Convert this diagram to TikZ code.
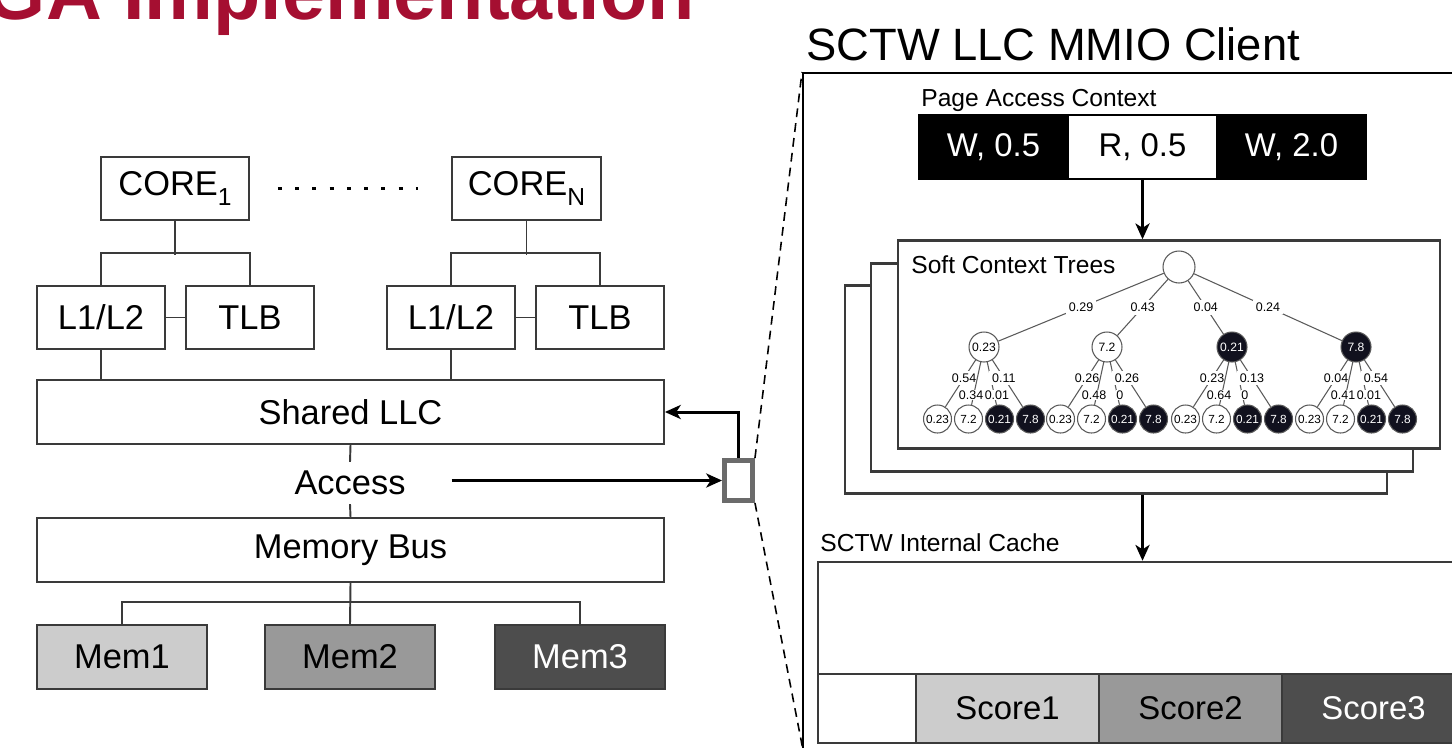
\documentclass[tikz,border=0pt]{standalone}
\usepackage{fontspec}
\setmainfont{Liberation Sans}
\usetikzlibrary{arrows.meta}
\definecolor{titlered}{HTML}{A50F31}
\definecolor{boxline}{HTML}{3A3A3A}
\definecolor{memA}{HTML}{CCCCCC}
\definecolor{memB}{HTML}{999999}
\definecolor{memC}{HTML}{4D4D4D}
\definecolor{portgray}{HTML}{6B6B6B}
\definecolor{treeink}{HTML}{11111E}
\definecolor{treeline}{HTML}{5A5A5A}
\newcommand\fsz[1]{\fontsize{#1pt}{#1pt}\selectfont}
\newcommand\idx[1]{\raisebox{-0.3em}{\fsz{14}#1}}
% one subtree: parent name, parent x, four edge weights
\newcommand\leafgroup[6]{%
  \node[wleaf] (#1l1) at (#2-46.5,419) {0.23};
  \node[wleaf] (#1l2) at (#2-15.5,419) {7.2};
  \node[bleaf] (#1l3) at (#2+15.5,419) {0.21};
  \node[bleaf] (#1l4) at (#2+46.5,419) {7.8};
  \draw[tedge] (#1) -- node[elab,pos=0.38] (#1e1) {#3} (#1l1);
  \draw[tedge] (#1) -- node[ilab,pos=0.78,xshift=-0.05cm] (#1e2) {#4} (#1l2);
  \draw[tedge] (#1) -- node[ilab,pos=0.78,xshift=0.05cm] (#1e3) {#5} (#1l3);
  \draw[tedge] (#1) -- node[elab,pos=0.38] (#1e4) {#6} (#1l4);
}
\begin{document}
\begin{tikzpicture}[x=0.02cm, y=-0.02cm,
  box/.style={draw=boxline, line width=1.1pt, inner sep=0pt, minimum height=1.26cm, font=\fsz{19.6}},
  conn/.style={draw=boxline, line width=1.1pt},
  arr/.style={draw=black, line width=1.7pt, -{Stealth[length=9pt,width=8pt,inset=2.5pt]}},
  dotline/.style={draw=black, line width=2.2pt, dash pattern=on 0.08cm off 0.265cm},
  dashline/.style={draw=black, line width=0.9pt, dash pattern=on 5pt off 3.5pt},
  cell/.style={draw=black, line width=1pt, inner sep=0pt, minimum width=2.98cm, minimum height=1.28cm, font=\fsz{18.7}},
  treebox/.style={draw=boxline, line width=1.4pt, fill=white, minimum width=10.84cm, minimum height=4.16cm},
  wnode/.style={circle, draw=treeline, line width=0.6pt, fill=white, inner sep=0pt, minimum size=0.6cm, font=\fsz{6.9}},
  bnode/.style={wnode, fill=treeink, text=white},
  wleaf/.style={wnode, minimum size=0.56cm, font=\fsz{6.7}},
  bleaf/.style={wleaf, fill=treeink, text=white},
  tedge/.style={draw=treeline, line width=0.6pt},
  elab/.style={fill=white, inner sep=1.6pt, font=\fsz{7.1}},
  ilab/.style={fill=white, inner sep=0.3pt, font=\fsz{7.1}},
  slot/.style={draw=boxline, line width=1.1pt, inner sep=0pt, minimum height=1.38cm, font=\fsz{18.7}},
  caption/.style={anchor=base west, inner sep=0pt, font=\fsz{14}}
]
\useasboundingbox (0,0) rectangle (1452,747);
\clip (0,0) rectangle (1452,747);

% ---------- heading ----------
\node[anchor=base east, inner sep=0pt, font=\fsz{44}\bfseries, text=titlered] (heading) at (695,19) {GA Implementation};

% ---------- multicore system ----------
\node[box, minimum width=2.96cm] (core1) at (175,188.5) {CORE\idx{1}};
\node[box, minimum width=2.98cm] (coren) at (526.5,188.5) {CORE\idx{N}};
\draw[dotline, shorten <=0.56cm, shorten >=0.66cm] (core1.east) -- (coren.west);

\node[box, minimum width=2.56cm] (l1a) at (101,317.5) {L1/L2};
\node[box, minimum width=2.56cm] (tlba) at (250,317.5) {TLB};
\node[box, minimum width=2.56cm] (l1b) at (451,317.5) {L1/L2};
\node[box, minimum width=2.56cm] (tlbb) at (600,317.5) {TLB};

\draw[conn] (core1.south) -- ++(0,34);
\draw[conn] (l1a.north) -- ++(0,-32) -| (tlba.north);
\draw[conn] (coren.south) -- ++(0,34);
\draw[conn] (l1b.north) -- ++(0,-32) -| (tlbb.north);
\draw[conn] (l1a) -- (tlba);
\draw[conn] (l1b) -- (tlbb);

\node[box, minimum width=12.54cm, minimum height=1.28cm] (llc) at (350.5,412) {Shared LLC};
\draw[conn] (l1a.south) -- (l1a.south |- llc.north);
\draw[conn] (l1b.south) -- (l1b.south |- llc.north);

\node[inner sep=5pt, font=\fsz{19.6}] (access) at (350,483) {Access};
\node[box, minimum width=12.54cm, minimum height=1.28cm] (bus) at (350.5,550) {Memory Bus};
\draw[conn] (llc.south) -- (access.north);
\draw[conn] (access.south) -- (bus.north);

\node[box, minimum width=3.4cm, minimum height=1.28cm, fill=memA] (mem1) at (122,657) {Mem1};
\node[box, minimum width=3.4cm, minimum height=1.28cm, fill=memB] (mem2) at (350,657) {Mem2};
\node[box, minimum width=3.4cm, minimum height=1.28cm, fill=memC, text=white] (mem3) at (580,657) {Mem3};
\draw[conn] (bus.south) -- (mem2.north);
\draw[conn] (mem1.north) -- ++(0,-22) -| (mem3.north);

% ---------- MMIO port ----------
\node[draw=portgray, line width=2.8pt, fill=white, inner sep=0pt, minimum width=0.56cm, minimum height=0.8cm] (port) at (738.5,480.5) {};
\draw[arr] ([xshift=0.74cm]access.east |- port.west) -- (port.west);
\draw[arr] (port.north) |- (llc.east);

% ---------- client panel ----------
\node[draw=black, line width=1.2pt, inner sep=0pt, minimum width=13.94cm, minimum height=14.54cm] (panel) at (1151.5,436.5) {};
\coordinate (panelfoot) at (803,750);
\draw[dashline] (port.north east) -- (panel.north west);
\draw[dashline] (port.south east) -- (panelfoot);
\node[anchor=base west, inner sep=0pt, font=\fsz{25.8}] (ptitle) at (806,60) {SCTW LLC MMIO Client};

% page access context
\node[caption] (ctxcap) at (921,106) {Page Access Context};
\node[cell, fill=black, text=white] (ctx1) at (993.5,147) {W, 0.5};
\node[cell, fill=white] (ctx2) at (1142.5,147) {R, 0.5};
\node[cell, fill=black, text=white] (ctx3) at (1291.5,147) {W, 2.0};

% stacked soft context trees
\node[treebox] (tree3) at (1116,389.5) {};
\node[treebox] (tree2) at (1142,367.5) {};
\node[treebox] (tree1) at (1169,344.5) {};
\draw[arr] (ctx2.south) -- (ctx2.south |- tree1.north);
\node[caption] (treecap) at (911,273) {Soft Context Trees};

\node[wnode, minimum size=0.64cm] (root) at (1179,267) {};
\node[wnode] (a) at (984,347) {0.23};
\node[wnode] (b) at (1107,347) {7.2};
\node[bnode] (c) at (1232,347) {0.21};
\node[bnode] (d) at (1356,347) {7.8};
\draw[tedge] (root) -- node[elab] (ra) {0.29} (a);
\draw[tedge] (root) -- node[elab] (rb) {0.43} (b);
\draw[tedge] (root) -- node[elab] (rc) {0.04} (c);
\draw[tedge] (root) -- node[elab] (rd) {0.24} (d);
\leafgroup{a}{984}{0.54}{0.34}{0.01}{0.11}
\leafgroup{b}{1107}{0.26}{0.48}{0}{0.26}
\leafgroup{c}{1232}{0.23}{0.64}{0}{0.13}
\leafgroup{d}{1356}{0.04}{0.41}{0.01}{0.54}

% internal cache
\node[caption] (cachecap) at (820,551) {SCTW Internal Cache};
\node[draw=boxline, line width=1.4pt, inner sep=0pt, minimum width=13.64cm, minimum height=3.62cm] (cache) at (1159,652.5) {};
\draw[arr] (ctx2.south |- tree3.south) -- (ctx2.south |- cache.north);
\node[slot, minimum width=1.96cm, fill=white] (blank) at (867,708.5) {};
\node[slot, minimum width=3.66cm, fill=memA] (score1) at (1007.5,708.5) {Score1};
\node[slot, minimum width=3.66cm, fill=memB] (score2) at (1190.5,708.5) {Score2};
\node[slot, minimum width=3.66cm, fill=memC, text=white] (score3) at (1373.5,708.5) {Score3};
\end{tikzpicture}
\end{document}
